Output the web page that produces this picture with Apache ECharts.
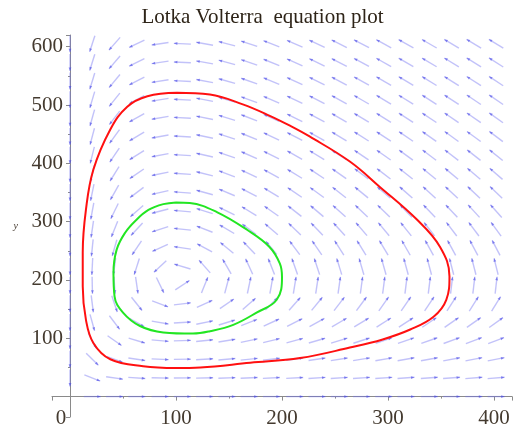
<!DOCTYPE html>
<html>
<head>
<meta charset="utf-8">
<script src="https://cdn.jsdelivr.net/npm/echarts@6/dist/echarts.min.js"></script>
<style>
  html, body { margin: 0; padding: 0; background: #fff; }
  #main { width: 525px; height: 437px; }
</style>
</head>
<body>
<div id="main"></div>
<script>
// grid of the direction field
var xGrid = [0, 21, 42, 63, 85, 106, 127, 148, 169, 190, 212, 233, 254, 275, 296, 317, 339, 360, 381, 402];
var yGrid = [0, 32, 64, 96, 127, 159, 191, 223, 255, 287, 318, 350, 382, 414, 446, 478, 509, 541, 573, 605];

// Lotka-Volterra: equilibrium at (100, 200), prey growth twice the predator death rate
var eqPrey = 100;
var eqPred = 200;
var preyGrowth = 2;
var predDeath = 1;

// the two closed orbits
var redOrbit = [
    [101, 521], [132, 518], [163, 501], [189, 481], [208, 464], [226, 446], [264, 403],
    [292, 360], [327, 304], [349, 257], [358, 206], [355, 166], [343, 137], [321, 115],
    [295, 98], [264, 84], [217, 66], [170, 58], [123, 50], [100, 49], [69, 52], [38, 64],
    [22, 92], [15, 132], [12, 189], [12, 247], [15, 320], [22, 389], [38, 458], [54, 497],
    [73, 515], [101, 521]
];
var greenOrbit = [
    [100, 333], [113, 332], [139, 316], [167, 286], [188, 257], [198, 228], [200, 205],
    [195, 166], [176, 144], [154, 123], [132, 112], [116, 108], [88, 110], [66, 121],
    [50, 144], [42, 172], [41, 212], [44, 252], [52, 281], [62, 302], [74, 320], [88, 330],
    [100, 333]
];

var xTicks = [0, 100, 200, 300, 400];
var yTicks = [100, 200, 300, 400, 500, 600];

function rates(x, y) {
    return [preyGrowth * x * (1 - y / eqPred), predDeath * y * (x / eqPrey - 1)];
}

var fieldData = [];
xGrid.forEach(function (x) {
    yGrid.forEach(function (y) {
        fieldData.push([x, y]);
    });
});

var serif = 'Liberation Serif';
var labelColor = '#443a2f';
var axisColor = '#8a8a8a';

var myChart = echarts.init(document.getElementById('main'));
myChart.setOption({
    animation: false,
    title: {
        text: 'Lotka Volterra  equation plot',
        left: 'center',
        top: 7,
        padding: 0,
        textStyle: { fontFamily: serif, fontSize: 21, fontWeight: 'normal', color: '#2e2418' }
    },
    grid: { left: 52, right: 13, top: 35, bottom: 20, containLabel: false, outerBoundsMode: 'none' },
    xAxis: {
        type: 'value',
        min: -17,
        max: 417,
        name: 'x',
        nameLocation: 'middle',
        nameGap: 25,
        nameTextStyle: { fontFamily: serif, fontStyle: 'italic', fontSize: 10, color: labelColor },
        axisLine: { onZero: true, lineStyle: { color: axisColor, width: 1 } },
        axisTick: { length: 4, lineStyle: { color: axisColor } },
        minorTick: { show: true, splitNumber: 2, length: 2, lineStyle: { color: axisColor } },
        splitLine: { show: false },
        axisLabel: {
            margin: -9,
            fontFamily: serif,
            fontSize: 21,
            color: labelColor,
            formatter: function (v) {
                if (v === 0) return '{z|0}';
                return xTicks.indexOf(v) >= 0 ? String(v) : '';
            },
            rich: { z: { fontFamily: serif, fontSize: 21, color: labelColor, padding: [0, 18, 0, 0] } }
        }
    },
    yAxis: {
        type: 'value',
        min: -35,
        max: 620,
        name: 'y',
        nameLocation: 'middle',
        nameGap: 34,
        nameRotate: 0,
        nameTextStyle: { fontFamily: serif, fontStyle: 'italic', fontSize: 10, color: labelColor, padding: [0, 0, 42, 0] },
        axisLine: { onZero: true, lineStyle: { color: axisColor, width: 1 } },
        axisTick: { length: 4, lineStyle: { color: axisColor } },
        minorTick: { show: true, splitNumber: 2, length: 2, lineStyle: { color: axisColor } },
        splitLine: { show: false },
        axisLabel: {
            margin: -11,
            fontFamily: serif,
            fontSize: 21,
            color: labelColor,
            formatter: function (v) {
                return yTicks.indexOf(v) >= 0 ? String(v) : '';
            }
        }
    },
    series: [
        {
            type: 'custom',
            name: 'field',
            data: fieldData,
            encode: { x: 0, y: 1 },
            z: 2,
            renderItem: function (params, api) {
                var x = api.value(0), y = api.value(1);
                var r = rates(x, y);
                var p = api.coord([x, y]);
                var q = api.coord([x + r[0] * 1e-4, y + r[1] * 1e-4]);
                var dx = q[0] - p[0], dy = q[1] - p[1];
                var len = Math.sqrt(dx * dx + dy * dy);
                if (!len) return;
                var ux = dx / len, uy = dy / len;
                var half = 8.5;
                var x0 = p[0] - ux * half, y0 = p[1] - uy * half;
                var x1 = p[0] + ux * half, y1 = p[1] + uy * half;
                var hl = 3.5, hw = 1.4;
                return {
                    type: 'group',
                    children: [
                        {
                            type: 'line',
                            shape: { x1: x0, y1: y0, x2: x1, y2: y1 },
                            style: { stroke: 'rgba(110,110,240,0.42)', lineWidth: 1.4 }
                        },
                        {
                            type: 'polygon',
                            shape: {
                                points: [
                                    [x1, y1],
                                    [x1 - ux * hl - uy * hw, y1 - uy * hl + ux * hw],
                                    [x1 - ux * hl + uy * hw, y1 - uy * hl - ux * hw]
                                ]
                            },
                            style: { fill: 'rgba(70,70,230,0.6)' }
                        }
                    ]
                };
            }
        },
        {
            type: 'line',
            name: 'outer',
            data: redOrbit,
            smooth: 0.4,
            showSymbol: false,
            z: 3,
            lineStyle: { color: '#ff1010', width: 2 }
        },
        {
            type: 'line',
            name: 'inner',
            data: greenOrbit,
            smooth: 0.4,
            showSymbol: false,
            z: 3,
            lineStyle: { color: '#22e622', width: 2 }
        }
    ]
});
</script>
</body>
</html>
